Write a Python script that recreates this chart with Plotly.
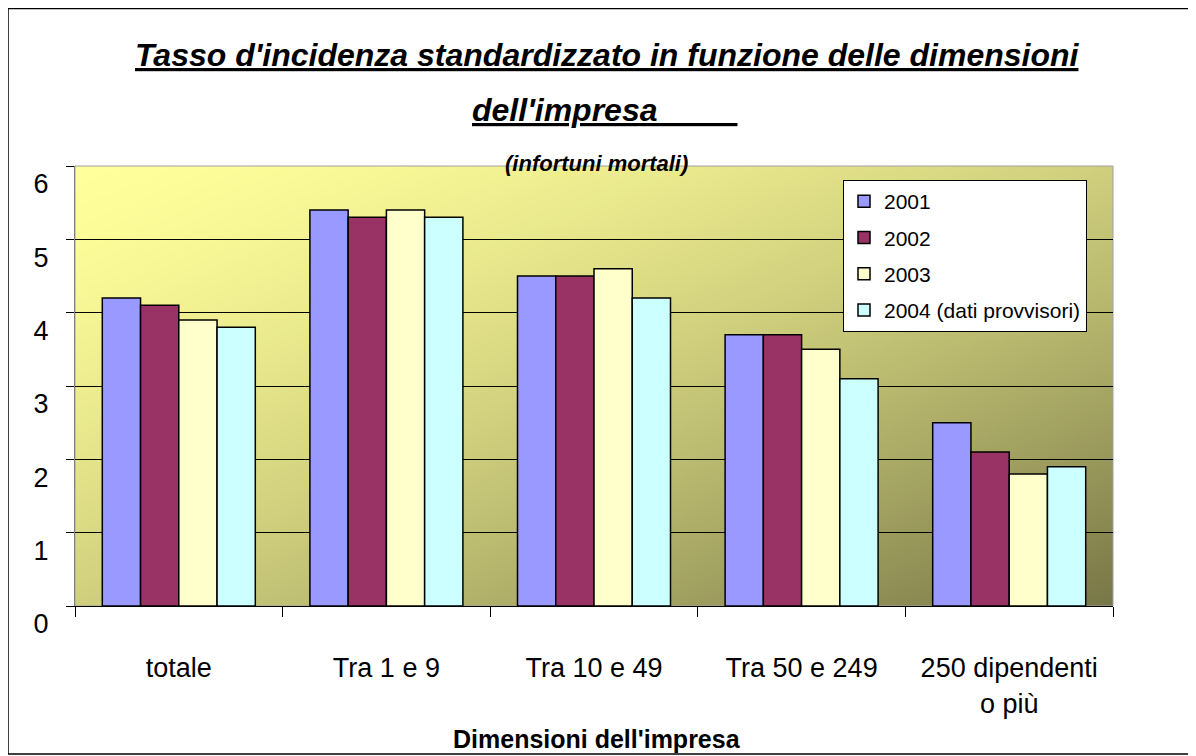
import zlib, struct, base64
import plotly.graph_objects as go

# ---- data ----
categories = ["totale", "Tra 1 e 9", "Tra 10 e 49", "Tra 50 e 249", "250 dipendenti<br>o più"]
series_names = ["2001", "2002", "2003", "2004 (dati provvisori)"]
v2001 = [4.2, 5.4, 4.5, 3.7, 2.5]
v2002 = [4.1, 5.3, 4.5, 3.7, 2.1]
v2003 = [3.9, 5.4, 4.6, 3.5, 1.8]
v2004 = [3.8, 5.3, 4.2, 3.1, 1.9]
series_values = [v2001, v2002, v2003, v2004]
y_ticks = [0, 1, 2, 3, 4, 5, 6]
y_ticklabels = ["0", "1", "2", "3", "4", "5", "6"]

colors = ["#9999FF", "#993366", "#FFFFCC", "#CCFFFF"]
FONT = "Liberation Sans, Arial, sans-serif"


# ---- diagonal gradient background as a small PNG ----
def gradient_png(w, h, c0, c1, gamma):
    rows = []
    for y in range(h):
        row = bytearray(b"\x00")
        for x in range(w):
            t = ((x / (w - 1) + y / (h - 1)) / 2.0) ** gamma
            row += bytes(int(round(c0[i] + (c1[i] - c0[i]) * t)) for i in range(3))
        rows.append(bytes(row))
    raw = b"".join(rows)

    def chunk(tag, data):
        c = struct.pack(">I", len(data)) + tag + data
        return c + struct.pack(">I", zlib.crc32(tag + data) & 0xFFFFFFFF)

    png = (b"\x89PNG\r\n\x1a\n"
           + chunk(b"IHDR", struct.pack(">IIBBBBB", w, h, 8, 2, 0, 0, 0))
           + chunk(b"IDAT", zlib.compress(raw, 9))
           + chunk(b"IEND", b""))
    return "data:image/png;base64," + base64.b64encode(png).decode()


bg = gradient_png(120, 120, (255, 255, 155), (120, 119, 71), 1.5)

fig = go.Figure()
for name, vals, col in zip(series_names, series_values, colors):
    fig.add_trace(go.Bar(
        x=categories, y=vals, name=name, legendgroup=name,
        marker=dict(color=col, line=dict(color="black", width=1.5)),
    ))

fig.update_layout(
    width=1196, height=756,
    paper_bgcolor="white", plot_bgcolor="rgba(0,0,0,0)",
    margin=dict(l=67, r=91, t=158, b=158),
    barmode="group", bargap=0.263, bargroupgap=0,
    font=dict(family=FONT, color="black"),
    showlegend=True,
    legend=dict(
        x=(843 - 75) / 1038, y=(606 - 180) / 440, xanchor="left", yanchor="top",
        bgcolor="white", bordercolor="black", borderwidth=1,
        font=dict(size=21, family=FONT), tracegroupgap=6,
    ),
    images=[dict(source=bg, xref="paper", yref="paper", x=0, y=1,
                 sizex=1, sizey=1, sizing="stretch", layer="below")],
)

fig.update_xaxes(
    showline=True, linecolor="black", linewidth=1,
    ticks="outside", tickson="boundaries", ticklen=10, tickcolor="black",
    tickfont=dict(size=27, family=FONT), ticklabelstandoff=38,
    showgrid=False,
)
fig.update_yaxes(
    range=[0, 6], tickvals=y_ticks, ticktext=y_ticklabels,
    showline=True, linecolor="#808080", linewidth=1,
    ticks="outside", ticklen=8, tickcolor="black",
    tickfont=dict(size=27, family=FONT), ticklabelshift=18, ticklabelstandoff=12,
    showgrid=True, gridcolor="black", gridwidth=1, zeroline=False,
)

# plot-area frame and outer border
fig.add_shape(type="rect", xref="x domain", yref="y domain", x0=0, x1=1, y0=0, y1=1,
              line=dict(color="#A0A0A0", width=1), layer="below")
fig.add_shape(type="rect", xref="paper", yref="paper",
              x0=(8 - 75) / 1038, x1=(1193 - 75) / 1038,
              y0=(606 - 754) / 440, y1=(606 - 8.5) / 440,
              line=dict(color="black", width=1.5))

nb = "\u00a0"
ann = dict(xref="paper", yref="paper", showarrow=False, xanchor="center", yanchor="middle")
fig.add_annotation(text="<b><i><u>Tasso d'incidenza standardizzato in funzione delle dimensioni</u></i></b>",
                   x=(607 - 75) / 1038, y=(606 - 55) / 440,
                   font=dict(size=32, family=FONT), **ann)
fig.add_annotation(text="<b><i><u>dell'impresa" + nb * 9 + "</u></i></b>",
                   x=(604 - 75) / 1038, y=(606 - 110) / 440,
                   font=dict(size=32, family=FONT), **ann)
fig.add_annotation(text="<b><i>(infortuni mortali)</i></b>",
                   x=(596 - 75) / 1038, y=(606 - 163) / 440,
                   font=dict(size=22, family=FONT), **ann)
fig.add_annotation(text="<b>Dimensioni dell'impresa</b>",
                   x=(597 - 75) / 1038, y=(606 - 739) / 440,
                   font=dict(size=25, family=FONT), **ann)

fig.write_html("out.html")
